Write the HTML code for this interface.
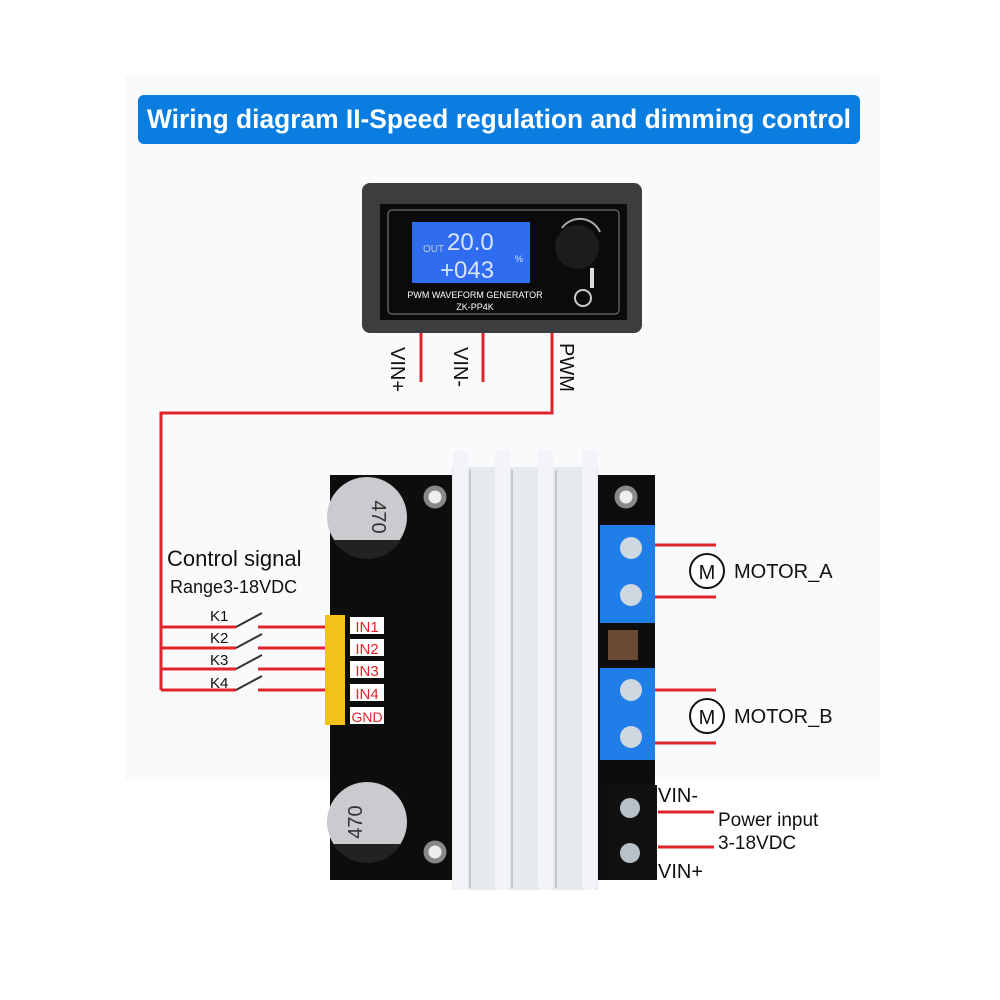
<!DOCTYPE html>
<html><head><meta charset="utf-8"><style>
html,body{margin:0;padding:0;background:#fff;}
svg{display:block}
text{font-family:"Liberation Sans",sans-serif;}
</style></head><body>
<svg width="1000" height="1000" viewBox="0 0 1000 1000" xmlns="http://www.w3.org/2000/svg">
<rect x="0" y="0" width="1000" height="1000" fill="#fff"/>
<rect x="125" y="75" width="755" height="705" fill="#f8fafc"/>
<!-- title -->
<rect x="138" y="95" width="722" height="49" rx="6" fill="#0a7ee0"/>
<text x="499" y="128" fill="#fff" font-size="27" font-weight="bold" text-anchor="middle" textLength="704" lengthAdjust="spacingAndGlyphs">Wiring diagram II-Speed regulation and dimming control</text>
<!-- display module -->
<rect x="362" y="183" width="280" height="150" rx="8" fill="#3c3d3f"/>
<rect x="380" y="204" width="247" height="116" fill="#0b0b0b"/>
<rect x="388" y="210" width="231" height="104" rx="4" fill="none" stroke="#888" stroke-width="1"/>
<rect x="412" y="222" width="118" height="61" fill="#2f6cf0"/>
<text x="423" y="252" fill="#bcd" font-size="10">OUT</text>
<text x="447" y="250" fill="#d8e4ff" font-size="24" font-family="Liberation Mono">20.0</text>
<text x="440" y="278" fill="#d8e4ff" font-size="24" font-family="Liberation Mono">+043</text>
<text x="515" y="262" fill="#d8e4ff" font-size="9">%</text>
<text x="475" y="298" fill="#fff" font-size="9" text-anchor="middle">PWM WAVEFORM GENERATOR</text>
<text x="475" y="310" fill="#fff" font-size="9" text-anchor="middle">ZK-PP4K</text>
<circle cx="577" cy="247" r="22" fill="#1c1c1c"/>
<path d="M562 228 A22 22 0 0 1 600 232" fill="none" stroke="#aaa" stroke-width="2"/>
<rect x="590" y="268" width="4" height="20" fill="#ddd"/>
<circle cx="583" cy="298" r="8" fill="none" stroke="#ccc" stroke-width="2"/>
<!-- wires top -->
<g stroke="#e0242a" stroke-width="3" fill="none">
<path d="M421 333 V382"/>
<path d="M483 333 V382"/>
<path d="M552 333 V413 H161 V690"/>
<path d="M161 627 H236 M161 648 H236 M161 669 H236 M161 690 H236"/>
<path d="M258 627 H330 M258 648 H330 M258 669 H330 M258 690 H330"/>
<path d="M655 545 H716 M655 597 H716 M655 690 H716 M655 743 H716"/>
<path d="M658 812 H714 M658 847 H714"/>
</g>
<g stroke="#333" stroke-width="2">
<path d="M236 627 L262 613 M236 648 L262 634 M236 669 L262 655 M236 690 L262 676"/>
</g>
<text transform="translate(391,347) rotate(90)" font-size="20" fill="#111">VIN+</text>
<text transform="translate(454,347) rotate(90)" font-size="20" fill="#111">VIN-</text>
<text transform="translate(560,343) rotate(90)" font-size="20" fill="#111">PWM</text>
<!-- board -->
<rect x="330" y="475" width="325" height="405" fill="#0d0d0d"/>
<circle cx="367" cy="517" r="40" fill="#c9cbce"/>
<path d="M333 540 A40 40 0 0 0 401 540 Z" fill="#222"/>
<text transform="translate(372,517) rotate(90)" font-size="20" fill="#333" text-anchor="middle">470</text>
<circle cx="367" cy="822" r="40" fill="#c9cbce"/>
<path d="M333 800 A40 40 0 0 1 401 800 Z" fill="#222" transform="rotate(180 367 822)"/>
<text transform="translate(362,822) rotate(-90)" font-size="20" fill="#333" text-anchor="middle">470</text>
<circle cx="435" cy="497" r="9" fill="#eee" stroke="#888" stroke-width="5"/>
<circle cx="435" cy="852" r="9" fill="#eee" stroke="#888" stroke-width="5"/>
<circle cx="626" cy="497" r="9" fill="#eee" stroke="#888" stroke-width="5"/>
<!-- heatsink -->
<rect x="452" y="467" width="146" height="423" fill="#e6eaef"/>
<rect x="453" y="450" width="15" height="440" rx="4" fill="#f2f4f7"/>
<rect x="495" y="450" width="15" height="440" rx="4" fill="#f2f4f7"/>
<rect x="538" y="450" width="15" height="440" rx="4" fill="#f2f4f7"/>
<rect x="582" y="450" width="15" height="440" rx="4" fill="#f2f4f7"/>
<path d="M470 470 V888 M512 470 V888 M556 470 V888" stroke="#c2c8cf" stroke-width="2"/>
<!-- terminals -->
<rect x="600" y="525" width="55" height="98" fill="#1f7ee8"/>
<circle cx="631" cy="548" r="11" fill="#cfd8e0"/><circle cx="631" cy="595" r="11" fill="#cfd8e0"/>
<rect x="608" y="630" width="30" height="30" fill="#6b4a34"/>
<rect x="600" y="668" width="55" height="92" fill="#1f7ee8"/>
<circle cx="631" cy="690" r="11" fill="#cfd8e0"/><circle cx="631" cy="737" r="11" fill="#cfd8e0"/>
<rect x="607" y="785" width="50" height="95" fill="#111"/>
<circle cx="630" cy="808" r="10" fill="#b8c0c8"/><circle cx="630" cy="853" r="10" fill="#b8c0c8"/>
<!-- pins -->
<rect x="325" y="615" width="20" height="110" fill="#f2c21a"/>
<g fill="#fff">
<rect x="350" y="617" width="34" height="17"/><rect x="350" y="639" width="34" height="17"/>
<rect x="350" y="661" width="34" height="17"/><rect x="350" y="684" width="34" height="17"/>
<rect x="350" y="707" width="34" height="17"/>
</g>
<g fill="#e0242a" font-size="15" text-anchor="middle">
<text x="367" y="632">IN1</text><text x="367" y="654">IN2</text><text x="367" y="676">IN3</text><text x="367" y="699">IN4</text>
<text x="367" y="722" font-size="14">GND</text>
</g>
<!-- labels -->
<text x="167" y="566" font-size="22" fill="#111">Control signal</text>
<text x="170" y="593" font-size="18" fill="#111">Range3-18VDC</text>
<g font-size="15" fill="#111"><text x="210" y="621">K1</text><text x="210" y="643">K2</text><text x="210" y="665">K3</text><text x="210" y="688">K4</text></g>
<circle cx="707" cy="571" r="17" fill="#fff" stroke="#111" stroke-width="2"/>
<text x="707" y="579" font-size="20" text-anchor="middle" fill="#111">M</text>
<text x="734" y="578" font-size="20" fill="#111">MOTOR_A</text>
<circle cx="707" cy="716" r="17" fill="#fff" stroke="#111" stroke-width="2"/>
<text x="707" y="724" font-size="20" text-anchor="middle" fill="#111">M</text>
<text x="734" y="723" font-size="20" fill="#111">MOTOR_B</text>
<text x="658" y="802" font-size="20" fill="#111">VIN-</text>
<text x="658" y="878" font-size="20" fill="#111">VIN+</text>
<text x="718" y="826" font-size="19" fill="#111">Power input</text>
<text x="718" y="849" font-size="19" fill="#111">3-18VDC</text>
</svg>
</body></html>
